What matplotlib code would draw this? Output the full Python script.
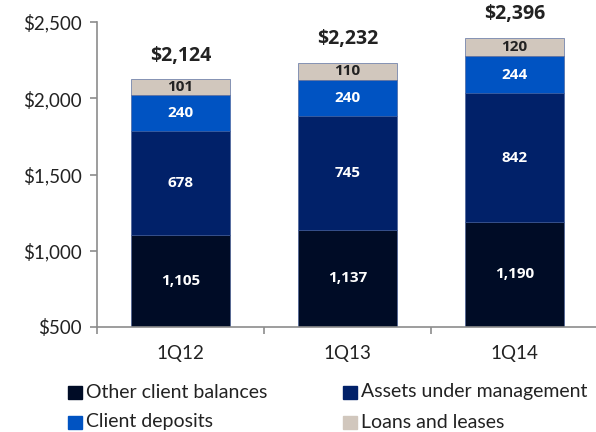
import matplotlib
matplotlib.use("Agg")
import matplotlib.pyplot as plt
from matplotlib.patches import Rectangle

plt.rcParams['font.family'] = ['Lato', 'DejaVu Sans']
BOLD_FONT = ['Open Sans', 'DejaVu Sans']

quarters = ["1Q12", "1Q13", "1Q14"]
other_balances = [1105, 1137, 1190]
assets_mgmt = [678, 745, 842]
client_deposits = [240, 240, 244]
loans_leases = [101, 110, 120]
totals = [2124, 2232, 2396]

series_names = ["Other client balances", "Assets under management",
                "Client deposits", "Loans and leases"]
series = [other_balances, assets_mgmt, client_deposits, loans_leases]
colors = ["#000c26", "#012169", "#0053c2", "#d1c7bd"]
label_colors = ["white", "white", "white", "#222222"]

y_min, y_max = 500, 2500

fig = plt.figure(figsize=(5.96, 4.32), dpi=100)
ax = fig.add_axes([97 / 596, 105 / 432, 501 / 596, 305 / 432])

x = list(range(len(quarters)))
bottoms = [0] * len(quarters)
for vals, col, lcol in zip(series, colors, label_colors):
    ax.bar(x, vals, bottom=bottoms, width=0.59, color=col,
           edgecolor="#3b5694", linewidth=0.4, zorder=2)
    for i, v in enumerate(vals):
        lo = max(bottoms[i], y_min)
        hi = bottoms[i] + v
        ax.text(x[i], (lo + hi) / 2, f"{v:,}", ha="center", va="center",
                color=lcol, fontsize=11, fontweight="bold", family=BOLD_FONT, zorder=3)
    bottoms = [b + v for b, v in zip(bottoms, vals)]

for i, t in enumerate(totals):
    ax.annotate(f"${t:,}", (x[i], t), xytext=(0, 17), textcoords="offset points",
                ha="center", va="center", fontsize=14, fontweight="bold",
                family=BOLD_FONT, color="#222222", annotation_clip=False)

ax.set_ylim(y_min, y_max)
ax.set_xlim(-0.5, len(quarters) - 0.5)
ax.set_yticks(range(500, 2501, 500))
ax.set_yticklabels([f"${v:,}" for v in range(500, 2501, 500)], fontsize=13.5, color="#222222")
ax.set_xticks(x)
ax.set_xticklabels(quarters, fontsize=13.5, color="#222222")
ax.tick_params(axis="x", length=0, pad=13)
ax.set_xticks([-0.5, 0.5, 1.5, 2.5], minor=True)
ax.tick_params(axis="x", which="minor", length=5, color="#8c8c8c", width=1.2)
ax.tick_params(axis="y", length=5, color="#8c8c8c", width=1.2, pad=6)
for s in ["top", "right"]:
    ax.spines[s].set_visible(False)
for s in ["left", "bottom"]:
    ax.spines[s].set_color("#8c8c8c")
    ax.spines[s].set_linewidth(1.2)

# legend, two columns
leg_pos = [(68, 392), (343, 392), (68, 422), (343, 422)]
for (px, py), name, col in zip(leg_pos, series_names, colors):
    fig.patches.append(Rectangle((px / 596, (432 - py - 7) / 432), 14 / 596, 13 / 432,
                                 transform=fig.transFigure, color=col))
    fig.text((px + 18) / 596, (432 - py) / 432, name, fontsize=14,
             va="center", ha="left", color="#222222")

fig.savefig("out.png", dpi=100)
